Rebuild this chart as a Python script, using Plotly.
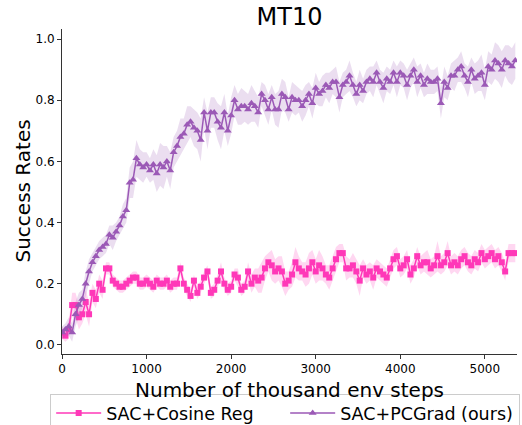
import numpy as np
import plotly.graph_objects as go

steps = list(range(0, 5361, 40))

pcgrad_mean = [
    0.04, 0.05, 0.06, 0.04, 0.10, 0.13, 0.15, 0.20, 0.24, 0.27,
    0.29, 0.31, 0.32, 0.33, 0.36, 0.35, 0.37, 0.39, 0.42, 0.44,
    0.53, 0.54, 0.61, 0.59, 0.58, 0.59, 0.57, 0.59, 0.56, 0.59,
    0.58, 0.60, 0.57, 0.63, 0.65, 0.68, 0.69, 0.72, 0.73, 0.71,
    0.70, 0.67, 0.76, 0.70, 0.76, 0.76, 0.73, 0.71, 0.76, 0.70,
    0.75, 0.80, 0.77, 0.78, 0.78, 0.77, 0.79, 0.78, 0.76, 0.82,
    0.80, 0.77, 0.81, 0.77, 0.77, 0.82, 0.81, 0.77, 0.81, 0.80,
    0.80, 0.78, 0.80, 0.82, 0.79, 0.84, 0.82, 0.83, 0.85, 0.84,
    0.86, 0.86, 0.81, 0.85, 0.86, 0.88, 0.85, 0.82, 0.85, 0.83,
    0.86, 0.87, 0.86, 0.89, 0.86, 0.84, 0.87, 0.86, 0.89, 0.86,
    0.89, 0.88, 0.85, 0.88, 0.90, 0.86, 0.88, 0.85, 0.87, 0.86,
    0.86, 0.87, 0.79, 0.86, 0.84, 0.88, 0.88, 0.90, 0.91, 0.88,
    0.86, 0.90, 0.87, 0.88, 0.89, 0.85, 0.91, 0.90, 0.93, 0.92,
    0.90, 0.93, 0.92, 0.91, 0.93,
]
pcgrad_std = [
    0.02, 0.02, 0.03, 0.03, 0.04, 0.04, 0.03, 0.04, 0.04, 0.03,
    0.03, 0.03, 0.03, 0.03, 0.03, 0.04, 0.03, 0.03, 0.04, 0.04,
    0.05, 0.06, 0.06, 0.05, 0.05, 0.04, 0.04, 0.05, 0.06, 0.07,
    0.07, 0.05, 0.06, 0.05, 0.05, 0.06, 0.05, 0.06, 0.05, 0.06,
    0.06, 0.07, 0.05, 0.06, 0.05, 0.05, 0.06, 0.07, 0.06, 0.05,
    0.06, 0.05, 0.05, 0.06, 0.05, 0.05, 0.06, 0.05, 0.05, 0.04,
    0.05, 0.05, 0.04, 0.05, 0.06, 0.05, 0.05, 0.04, 0.05, 0.05,
    0.04, 0.05, 0.05, 0.04, 0.05, 0.05, 0.04, 0.05, 0.04, 0.05,
    0.04, 0.05, 0.05, 0.04, 0.04, 0.05, 0.04, 0.04, 0.05, 0.04,
    0.04, 0.04, 0.05, 0.04, 0.04, 0.05, 0.04, 0.04, 0.04, 0.05,
    0.04, 0.04, 0.05, 0.04, 0.04, 0.05, 0.04, 0.04, 0.05, 0.04,
    0.04, 0.04, 0.05, 0.05, 0.04, 0.04, 0.05, 0.04, 0.05, 0.04,
    0.05, 0.04, 0.05, 0.05, 0.06, 0.05, 0.05, 0.05, 0.06, 0.06,
    0.06, 0.05, 0.06, 0.06, 0.06,
]

cosine_mean = [
    0.04, 0.03, 0.05, 0.13, 0.13, 0.09, 0.10, 0.14, 0.10, 0.17,
    0.15, 0.20, 0.18, 0.25, 0.25, 0.21, 0.20, 0.19, 0.19, 0.20,
    0.21, 0.22, 0.22, 0.20, 0.20, 0.21, 0.20, 0.19, 0.21, 0.20,
    0.20, 0.21, 0.19, 0.20, 0.20, 0.25, 0.20, 0.18, 0.16, 0.21,
    0.17, 0.19, 0.22, 0.24, 0.17, 0.18, 0.21, 0.24, 0.20, 0.18,
    0.19, 0.23, 0.22, 0.18, 0.19, 0.24, 0.20, 0.22, 0.21, 0.22,
    0.25, 0.27, 0.26, 0.24, 0.25, 0.24, 0.20, 0.21, 0.23, 0.27,
    0.25, 0.24, 0.23, 0.25, 0.27, 0.24, 0.26, 0.25, 0.23, 0.22,
    0.25, 0.28, 0.30, 0.30, 0.25, 0.25, 0.26, 0.24, 0.21, 0.25,
    0.23, 0.24, 0.22, 0.25, 0.24, 0.23, 0.22, 0.25, 0.28, 0.29,
    0.25, 0.26, 0.28, 0.23, 0.25, 0.29, 0.26, 0.27, 0.27, 0.25,
    0.26, 0.29, 0.26, 0.27, 0.30, 0.26, 0.27, 0.26, 0.28, 0.29,
    0.27, 0.26, 0.28, 0.27, 0.30, 0.28, 0.29, 0.30, 0.28, 0.29,
    0.27, 0.24, 0.30, 0.30, 0.30,
]
cosine_std = [
    0.02, 0.02, 0.03, 0.04, 0.04, 0.04, 0.03, 0.04, 0.04, 0.03,
    0.03, 0.03, 0.03, 0.02, 0.02, 0.02, 0.02, 0.02, 0.02, 0.02,
    0.02, 0.02, 0.02, 0.02, 0.02, 0.02, 0.02, 0.02, 0.02, 0.02,
    0.02, 0.02, 0.02, 0.02, 0.02, 0.02, 0.02, 0.02, 0.02, 0.02,
    0.02, 0.02, 0.02, 0.02, 0.02, 0.02, 0.02, 0.03, 0.02, 0.02,
    0.02, 0.02, 0.03, 0.02, 0.02, 0.03, 0.03, 0.03, 0.04, 0.05,
    0.04, 0.03, 0.05, 0.04, 0.04, 0.05, 0.04, 0.03, 0.04, 0.05,
    0.04, 0.03, 0.04, 0.05, 0.04, 0.04, 0.05, 0.04, 0.03, 0.04,
    0.04, 0.04, 0.03, 0.03, 0.04, 0.03, 0.04, 0.04, 0.05, 0.03,
    0.03, 0.03, 0.04, 0.03, 0.03, 0.03, 0.03, 0.03, 0.03, 0.03,
    0.03, 0.03, 0.03, 0.03, 0.03, 0.03, 0.03, 0.03, 0.04, 0.03,
    0.03, 0.05, 0.03, 0.03, 0.04, 0.03, 0.03, 0.03, 0.03, 0.03,
    0.03, 0.03, 0.03, 0.03, 0.03, 0.03, 0.03, 0.03, 0.03, 0.03,
    0.03, 0.03, 0.03, 0.03, 0.03,
]

x_ticks = [0, 1000, 2000, 3000, 4000, 5000]
y_ticks = [0.0, 0.2, 0.4, 0.6, 0.8, 1.0]

PINK = "#ff38b8"
PURPLE = "#9b59b6"
FONT = "DejaVu Sans"

fig = go.Figure()


def add_series(name, mean, std, color, fillcolor, symbol, size):
    m = np.array(mean)
    s = np.array(std)
    fig.add_trace(go.Scatter(x=steps, y=m + s, mode="lines", line=dict(width=0),
                             showlegend=False, hoverinfo="skip"))
    fig.add_trace(go.Scatter(x=steps, y=m - s, mode="lines", line=dict(width=0),
                             fill="tonexty", fillcolor=fillcolor,
                             showlegend=False, hoverinfo="skip"))
    fig.add_trace(go.Scatter(x=steps, y=m, mode="lines+markers", name=name,
                             line=dict(color=color, width=1.5),
                             marker=dict(symbol=symbol, size=size, color=color,
                                         line=dict(width=0))))


add_series("SAC+Cosine Reg", cosine_mean, cosine_std, PINK,
           "rgba(255,56,184,0.2)", "square", 6)
add_series("SAC+PCGrad (ours)", pcgrad_mean, pcgrad_std, PURPLE,
           "rgba(155,89,182,0.2)", "triangle-up", 7)

fig.update_layout(
    width=522, height=425,
    margin=dict(l=62, r=5, t=29, b=71, autoexpand=False),
    paper_bgcolor="white", plot_bgcolor="white",
    font=dict(family=FONT, color="black"),
    title=dict(text="MT10", x=0.5, xref="paper", y=1 - 17 / 425, yref="container",
               yanchor="middle", xanchor="center", font=dict(size=24, family=FONT)),
    xaxis=dict(range=[0, 5380], tickvals=x_ticks, ticktext=[str(v) for v in x_ticks],
               showgrid=False, zeroline=False, showline=True, linecolor="#333",
               linewidth=1, ticks="outside", ticklen=4, tickcolor="#333",
               tickfont=dict(size=12, family=FONT), automargin=False),
    yaxis=dict(range=[-0.03, 1.033], tickvals=y_ticks, ticktext=[f"{v:.1f}" for v in y_ticks],
               showgrid=False, zeroline=False, showline=True, linecolor="#333",
               linewidth=1, ticks="outside", ticklen=4, tickcolor="#333",
               tickfont=dict(size=12, family=FONT), automargin=False),
    legend=dict(orientation="h", x=-0.026, xanchor="left", y=-40 / 325, yanchor="top",
                traceorder="normal", itemwidth=45,
                bordercolor="#cccccc", borderwidth=1, bgcolor="white",
                font=dict(size=17.5, family=FONT), entrywidth=174),
)

# axis titles placed as annotations for exact positioning
fig.add_annotation(text="Number of thousand env steps", xref="paper", yref="paper",
                   x=0.5, y=-36 / 325, xanchor="center", yanchor="middle",
                   showarrow=False, font=dict(size=20, family=FONT, color="black"))
fig.add_annotation(text="Success Rates", xref="paper", yref="paper",
                   x=-40 / 455, y=0.5, xanchor="center", yanchor="middle",
                   textangle=-90, showarrow=False,
                   font=dict(size=20, family=FONT, color="black"))

fig.write_html("out.html", config={"displayModeBar": False},
               post_script="document.body.style.margin='0';document.body.style.overflow='hidden';")
